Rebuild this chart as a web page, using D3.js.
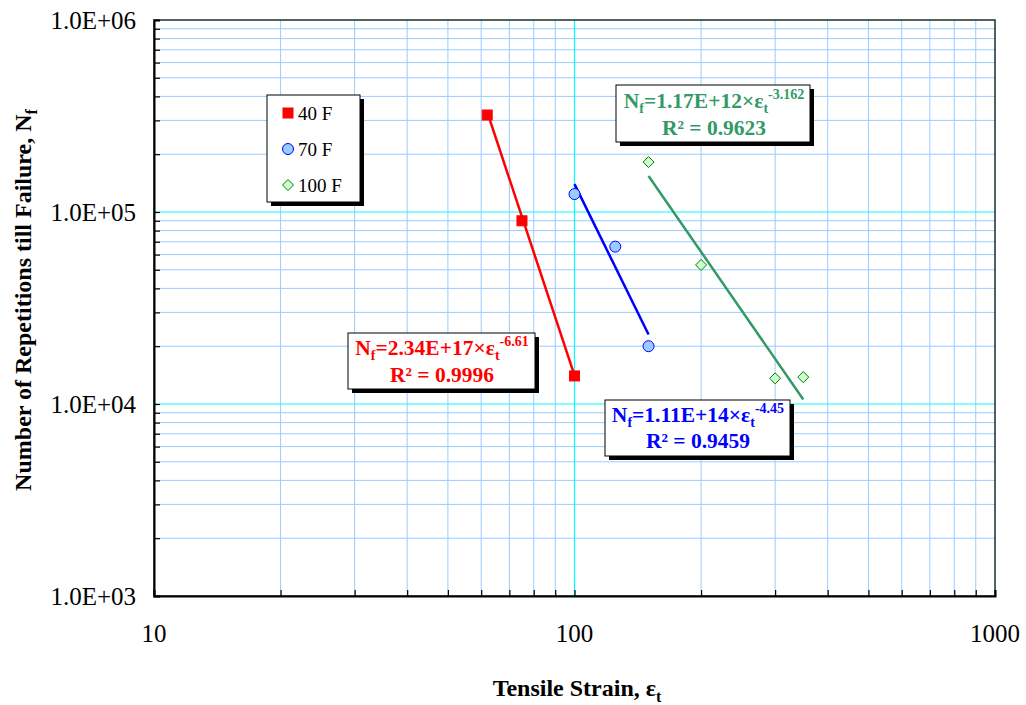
<!DOCTYPE html>
<html>
<head>
<meta charset="utf-8">
<script src="https://cdn.jsdelivr.net/npm/d3@7"></script>
<style>
  html, body { margin: 0; padding: 0; background: #fff; }
  svg { display: block; }
  text { font-family: "Liberation Serif", "Times New Roman", serif; }
</style>
</head>
<body>
<svg id="chart" width="1026" height="705"></svg>
<script>
// Fatigue test results: tensile strain vs. repetitions to failure
const seriesNames = ["40 F", "70 F", "100 F"];
const strain40 = [62, 75, 100];
const reps40 = [320000, 90000, 14000];
const strain70 = [100, 125, 150];
const reps70 = [124000, 66000, 20000];
const strain100 = [150, 200, 300, 350];
const reps100 = [182000, 53000, 13600, 13800];

// Power-law fits  Nf = k * eps^n
const fitCoef = [2.34e17, 1.11e14, 1.17e12];
const fitCoefLabel = ["2.34E+17", "1.11E+14", "1.17E+12"];
const fitExp = [-6.61, -4.45, -3.162];
const rSquared = ["0.9996", "0.9459", "0.9623"];

const xTickLabels = ["10", "100", "1000"];
const yTickLabels = ["1.0E+03", "1.0E+04", "1.0E+05", "1.0E+06"];

const strainSets = [strain40, strain70, strain100];
const repSets = [reps40, reps70, reps100];

const lineColors = ["#FF0000", "#0000FF", "#339966"];
const markerFill = ["#FF0000", "#99CCFF", "#CCFFCC"];
const markerStroke = ["#FF0000", "#0000FF", "#008000"];

const svg = d3.select("#chart");
const L = 154, R = 995, T = 20, B = 596;

const x = d3.scaleLog().domain([10, 1000]).range([L, R]);
const y = d3.scaleLog().domain([1e3, 1e6]).range([B, T]);

// Grid lines
const grid = svg.append("g");
const xMinor = [], yMinor = [];
for (let d = 10; d < 1000; d *= 10) for (let m = 2; m <= 9; m++) xMinor.push(d * m);
for (let d = 1e3; d < 1e6; d *= 10) for (let m = 2; m <= 9; m++) yMinor.push(d * m);

grid.selectAll(".xm").data(xMinor).join("line")
  .attr("x1", d => x(d)).attr("x2", d => x(d)).attr("y1", T).attr("y2", B)
  .attr("stroke", "#99CCFF").attr("stroke-width", 1);
grid.selectAll(".ym").data(yMinor).join("line")
  .attr("x1", L).attr("x2", R).attr("y1", d => y(d)).attr("y2", d => y(d))
  .attr("stroke", "#99CCFF").attr("stroke-width", 1);
grid.selectAll(".xM").data([100]).join("line")
  .attr("x1", d => x(d)).attr("x2", d => x(d)).attr("y1", T).attr("y2", B)
  .attr("stroke", "#00FFFF").attr("stroke-width", 1.2);
grid.selectAll(".yM").data([1e4, 1e5]).join("line")
  .attr("x1", L).attr("x2", R).attr("y1", d => y(d)).attr("y2", d => y(d))
  .attr("stroke", "#00FFFF").attr("stroke-width", 1.2);

// Frame
svg.append("rect").attr("x", L).attr("y", T).attr("width", R - L).attr("height", B - T)
  .attr("fill", "none").attr("stroke", "#1a2f2f").attr("stroke-width", 1.5);

// Axes with inward ticks
const yTickVals = yMinor.concat([1e3, 1e4, 1e5, 1e6]);
const xTickVals = xMinor.concat([10, 100, 1000]);
const yAxis = d3.axisLeft(y).tickValues(yTickVals).tickSize(-6).tickFormat("");
const xAxis = d3.axisBottom(x).tickValues(xTickVals).tickSize(-6).tickFormat("");
const gy = svg.append("g").attr("transform", `translate(${L},0)`).call(yAxis);
const gx = svg.append("g").attr("transform", `translate(0,${B})`).call(xAxis);
[gx, gy].forEach(g => {
  g.select(".domain").attr("stroke", "#000").attr("stroke-width", 2);
  g.selectAll(".tick line").attr("stroke", "#000").attr("stroke-width", 1.2);
});

// Tick labels
svg.append("g").selectAll("text").data([1e3, 1e4, 1e5, 1e6]).join("text")
  .attr("x", 136).attr("y", d => y(d)).attr("dy", "0.34em")
  .attr("text-anchor", "end").attr("font-size", 25)
  .text((d, i) => yTickLabels[i]);
svg.append("g").selectAll("text").data([10, 100, 1000]).join("text")
  .attr("x", d => x(d)).attr("y", 642)
  .attr("text-anchor", "middle").attr("font-size", 25)
  .text((d, i) => xTickLabels[i]);

// Axis titles
const xt = svg.append("text").attr("x", 577).attr("y", 696)
  .attr("text-anchor", "middle").attr("font-size", 24).attr("font-weight", "bold");
xt.append("tspan").text("Tensile Strain, ε");
xt.append("tspan").attr("font-size", 16).attr("dy", 6).text("t");

const yt = svg.append("text").attr("transform", "translate(31,300) rotate(-90)")
  .attr("text-anchor", "middle").attr("font-size", 24).attr("font-weight", "bold");
yt.append("tspan").text("Number of Repetitions till Failure, N");
yt.append("tspan").attr("font-size", 16).attr("dy", 6).text("f");

// Fitted power-law lines over each series' strain range
const line = d3.line().x(d => x(d[0])).y(d => y(d[1]));
strainSets.forEach((s, i) => {
  const [lo, hi] = d3.extent(s);
  const pts = [lo, hi].map(e => [e, fitCoef[i] * Math.pow(e, fitExp[i])]);
  svg.append("path").datum(pts).attr("d", line)
    .attr("fill", "none").attr("stroke", lineColors[i]).attr("stroke-width", 2.5);
});

// Markers
function drawMarker(g, kind, cx, cy, size) {
  if (kind === 0) {
    g.append("rect").attr("x", cx - size).attr("y", cy - size)
      .attr("width", size * 2).attr("height", size * 2)
      .attr("fill", markerFill[0]).attr("stroke", markerStroke[0]).attr("stroke-width", 1);
  } else if (kind === 1) {
    g.append("circle").attr("cx", cx).attr("cy", cy).attr("r", size + 0.5)
      .attr("fill", markerFill[1]).attr("stroke", markerStroke[1]).attr("stroke-width", 1);
  } else {
    const s = size + 0.5;
    g.append("path")
      .attr("d", `M${cx},${cy - s}L${cx + s},${cy}L${cx},${cy + s}L${cx - s},${cy}Z`)
      .attr("fill", markerFill[2]).attr("stroke", markerStroke[2]).attr("stroke-width", 1);
  }
}
const marks = svg.append("g");
strainSets.forEach((s, i) => {
  s.forEach((e, j) => drawMarker(marks, i, x(e), y(repSets[i][j]), 5));
});

// Shadowed box helper
function shadowBox(x0, y0, w, h) {
  svg.append("rect").attr("x", x0 + 4).attr("y", y0 + 4).attr("width", w).attr("height", h)
    .attr("fill", "#000");
  svg.append("rect").attr("x", x0).attr("y", y0).attr("width", w).attr("height", h)
    .attr("fill", "#fff").attr("stroke", "#000").attr("stroke-width", 1);
}

// Legend
shadowBox(267, 95, 93, 107);
const legRows = [113, 149, 185];
seriesNames.forEach((name, i) => {
  const lg = svg.append("g");
  drawMarker(lg, i, 288, legRows[i], 5);
  svg.append("text").attr("x", 298).attr("y", legRows[i]).attr("dy", "0.35em")
    .attr("font-size", 19).text(name);
});

// Equation labels
const eqBoxes = [
  { x: 348, y: 333, w: 187, h: 56, cx: 442, b1: 355, b2: 382 },
  { x: 605, y: 400, w: 185, h: 56, cx: 698, b1: 422, b2: 448 },
  { x: 616, y: 85, w: 194, h: 57, cx: 714, b1: 108, b2: 135 }
];
eqBoxes.forEach((bx, i) => {
  shadowBox(bx.x, bx.y, bx.w, bx.h);
  const t = svg.append("text").attr("x", bx.cx).attr("y", bx.b1)
    .attr("text-anchor", "middle").attr("font-size", 21.5).attr("font-weight", "bold")
    .attr("fill", lineColors[i]);
  t.append("tspan").text("N");
  t.append("tspan").attr("font-size", 14).attr("dy", 5).text("f");
  t.append("tspan").attr("dy", -5).text("=" + fitCoefLabel[i] + "×ε");
  t.append("tspan").attr("font-size", 14).attr("dy", 5).text("t");
  t.append("tspan").attr("font-size", 14).attr("dy", -14).text(String(fitExp[i]));
  svg.append("text").attr("x", bx.cx).attr("y", bx.b2)
    .attr("text-anchor", "middle").attr("font-size", 21.5).attr("font-weight", "bold")
    .attr("fill", lineColors[i]).text("R² = " + rSquared[i]);
});
</script>
</body>
</html>
